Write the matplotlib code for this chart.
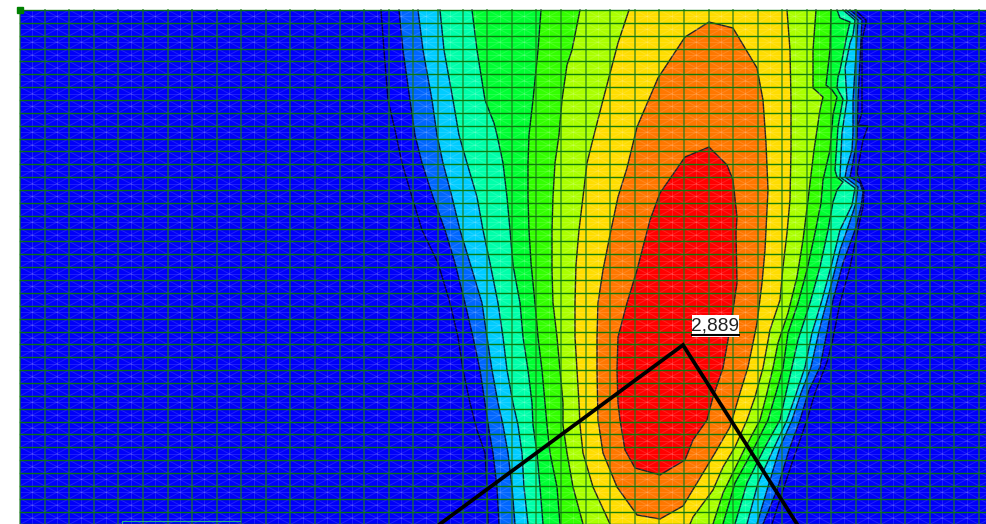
"""Contour plot of a plate result with mesh overlay and peak label"""
import numpy as np
import matplotlib
matplotlib.use('Agg')
import matplotlib.pyplot as plt
from matplotlib.collections import LineCollection

# contour edges as (x, y), top to bottom
outer_left = [(381, 10), (384, 50), (388, 100), (395, 130), (402, 163), (412, 197), (422, 230), (438, 263),
              (450, 303), (458, 337), (463, 370), (470, 403), (477, 430), (485, 453), (487, 487), (488, 524)]
outer_right = [(855, 10), (866, 20), (866, 23), (862, 40), (862, 113), (858, 125), (868, 126), (863, 140),
               (857, 173), (864, 190), (863, 207), (860, 220), (850, 267), (840, 303), (832, 343), (827, 362),
               (815, 393), (807, 420), (793, 460), (782, 493), (772, 524)]
azure_left = [(399, 10), (403, 50), (410, 100), (415, 135), (422, 163), (433, 197), (445, 230), (455, 263),
              (465, 303), (473, 337), (480, 370), (485, 403), (489, 430), (493, 453), (497, 487), (499, 524)]
azure_right = [(850, 10), (862, 20), (860, 60), (858, 100), (857, 140), (852, 167), (850, 177), (860, 183),
               (863, 192), (861, 207), (855, 230), (843, 263), (833, 300), (828, 327), (820, 367), (809, 390),
               (800, 420), (789, 450), (777, 490), (763, 524)]
cyan_left = [(418, 10), (423, 50), (432, 100), (437, 135), (443, 163), (452, 197), (460, 230), (470, 263),
             (482, 303), (487, 337), (492, 370), (498, 403), (503, 425), (508, 453), (512, 487), (515, 524)]
cyan_right = [(846, 10), (858, 20), (855, 70), (853, 100), (853, 133), (852, 150), (847, 167), (845, 177),
              (858, 187), (856, 203), (847, 230), (840, 250), (828, 297), (820, 327), (811, 367), (801, 393),
              (792, 420), (780, 447), (767, 490), (757, 524)]
spring_left = [(440, 10), (444, 50), (453, 100), (459, 135), (467, 163), (477, 197), (483, 230), (490, 263),
               (498, 303), (503, 337), (507, 370), (513, 403), (518, 425), (522, 453), (524, 487), (528, 524)]
spring_right = [(843, 10), (855, 20), (853, 35), (850, 43), (845, 68), (847, 100), (842, 133), (840, 177),
                (855, 188), (852, 205), (840, 230), (832, 263), (822, 300), (812, 333), (805, 367), (795, 397),
                (787, 420), (773, 450), (758, 483), (747, 524)]
green_left = [(472, 10), (477, 50), (485, 100), (490, 113), (494, 123), (497, 135), (503, 163), (507, 197),
              (510, 230), (513, 265), (520, 303), (523, 337), (528, 370), (532, 403), (533, 425), (537, 453),
              (540, 487), (543, 524)]
green_right = [(837, 10), (840, 18), (850, 22), (847, 35), (840, 70), (838, 77), (837, 88), (843, 99),
               (838, 127), (835, 170), (837, 177), (843, 182), (837, 190), (833, 202), (828, 230), (820, 267),
               (810, 303), (798, 340), (792, 367), (786, 393), (780, 420), (765, 447), (747, 483), (735, 524)]
lime_left = [(541, 10), (538, 50), (533, 100), (529, 135), (528, 163), (528, 197), (529, 230), (531, 263),
             (535, 303), (538, 337), (542, 370), (545, 403), (547, 425), (550, 453), (557, 487), (560, 524)]
lime_right = [(831, 10), (830, 50), (826, 85), (832, 90), (837, 97), (833, 115), (830, 150), (823, 180),
              (821, 203), (815, 233), (807, 270), (798, 303), (788, 333), (783, 368), (776, 393), (768, 420),
              (753, 450), (735, 483), (723, 524)]
ygreen_left = [(580, 10), (572, 50), (567, 65), (562, 100), (559, 135), (555, 163), (553, 197), (552, 230),
               (552, 270), (553, 303), (557, 337), (560, 370), (563, 403), (563, 425), (567, 453), (573, 487),
               (583, 524)]
ygreen_right = [(816, 10), (813, 50), (813, 88), (823, 97), (820, 110), (814, 150), (808, 200), (803, 240),
                (797, 277), (788, 313), (778, 343), (773, 368), (766, 397), (760, 420), (744, 450), (723, 493),
                (713, 524)]
yellow_left = [(629, 10), (618, 43), (603, 100), (594, 135), (587, 163), (583, 197), (579, 230), (576, 265),
               (575, 303), (575, 337), (577, 370), (579, 403), (580, 425), (583, 453), (593, 487), (610, 524)]
yellow_right = [(787, 10), (790, 50), (791, 100), (791, 150), (790, 200), (787, 233), (783, 267), (780, 300),
                (770, 330), (763, 368), (755, 397), (747, 420), (735, 447), (723, 467), (713, 490), (693, 517),
                (690, 524)]
orange_edge = [(709, 22), (733, 28), (757, 68), (763, 100), (766, 143), (768, 190), (767, 210), (765, 250),
               (762, 283), (757, 323), (753, 343), (748, 367), (740, 393), (735, 410), (730, 427), (715, 453),
               (697, 483), (683, 506), (660, 519), (637, 515), (617, 487), (603, 453), (598, 420), (597, 370),
               (597, 337), (598, 303), (603, 270), (611, 230), (618, 197), (627, 168), (637, 127), (658, 78),
               (685, 37)]
red_edge = [(709, 147), (727, 165), (733, 180), (737, 217), (736, 233), (737, 283), (733, 310), (728, 340),
            (723, 368), (713, 397), (707, 420), (693, 440), (685, 460), (660, 475), (635, 468), (625, 450),
            (620, 420), (618, 403), (617, 370), (618, 337), (627, 303), (637, 270), (650, 220), (660, 193),
            (685, 157)]

band_colors = ['#0000ff', '#0066ff', '#00ccff', '#00ffaa', '#00ff33', '#33ff00', '#aaff00', '#ffdd00']
band_edges = [(outer_left, outer_right), (azure_left, azure_right), (cyan_left, cyan_right),
              (spring_left, spring_right), (green_left, green_right), (lime_left, lime_right),
              (ygreen_left, ygreen_right), (yellow_left, yellow_right)]

section_x = [440, 683, 797]
section_y = [524, 345, 524]
peak_label = '2,889'

# mesh layout
x0, y0 = 20, 10
dx, dy = 24.59, 12.86
xs = np.arange(x0, 986 + dx, dx)
ys = np.arange(y0, 524 + dy, dy)

fig = plt.figure(figsize=(9.86, 5.24), dpi=100)
ax = fig.add_axes([0, 0, 1, 1])
ax.set_xlim(0, 986)
ax.set_ylim(524, 0)
ax.axis('off')

ax.fill([x0, 986, 986, x0], [y0, y0, 524, 524], color='#0000f8', lw=0, zorder=1)

# outer band is the same blue as the background, only its lines show
for color, (left, right) in zip(band_colors, band_edges):
    outline = left + right[::-1]
    ax.fill([p[0] for p in outline], [p[1] for p in outline], color=color, lw=0, zorder=2)
    for edge in (left, right):
        ax.plot([p[0] for p in edge], [p[1] for p in edge], color='#000020', lw=1.0, alpha=0.85, zorder=3)

for edge, color in ((orange_edge, '#ff7700'), (red_edge, '#ff0000')):
    ax.fill([p[0] for p in edge], [p[1] for p in edge], facecolor=color, edgecolor='#222222', lw=1.0, zorder=3)

# white mesh lines, a cross and two middle lines in each cell
light = []
for x in xs[:-1]:
    for y in ys[:-1]:
        light.append([(x, y), (x + dx, y + dy)])
        light.append([(x + dx, y), (x, y + dy)])
for x in xs[:-1]:
    light.append([(x + dx / 2, y0), (x + dx / 2, 524)])
for y in ys[:-1]:
    light.append([(x0, y + dy / 2), (986, y + dy / 2)])
ax.add_collection(LineCollection(light, colors='white', linewidths=0.7, alpha=0.13, zorder=4))

# green grid
for x in xs:
    ax.plot([x, x], [y0, 524], color='#1f7a1f', lw=1.4, alpha=0.6, zorder=5)
for y in ys:
    ax.plot([x0, 986], [y, y], color='#0a780a', lw=1.0, alpha=0.95, zorder=5)

ax.plot([x0], [y0], marker='s', ms=4.5, color='#008000', zorder=6, clip_on=False)
ax.plot([122, 122, 240], [524, 520.5, 520.5], color='#20b080', lw=0.8, zorder=6)

ax.plot(section_x, section_y, color='black', lw=2.7, solid_joinstyle='miter', zorder=7)

ax.fill([692, 739, 739, 692], [315, 315, 337, 337], color='white', lw=0, zorder=8)
ax.plot([692, 739], [334.5, 334.5], color='black', lw=1.5, zorder=9)
ax.text(715.5, 326, peak_label, fontsize=13.8, family='Liberation Sans', color='#222222',
        ha='center', va='center', zorder=10)

fig.savefig('out.png', dpi=100)
